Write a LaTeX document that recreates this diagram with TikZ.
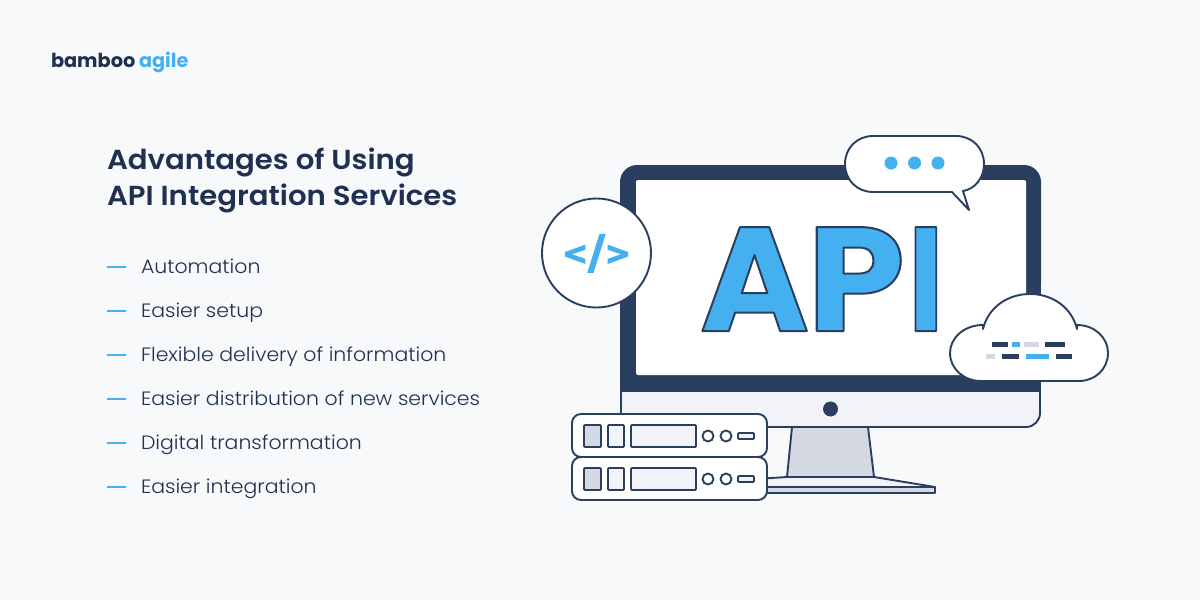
\documentclass[tikz,border=0pt]{standalone}
\usepackage{fontspec}
\setmainfont{Poppins}
\newfontfamily\listfont[FakeStretch=1.06]{Poppins Light}
\newfontfamily\headfont[FakeStretch=1.06]{Poppins SemiBold}
\newfontfamily\symfont{DejaVu Sans Bold}
\definecolor{pagebg}{HTML}{F8F9FB}
\definecolor{navy}{HTML}{2A3F5F}
\definecolor{inktext}{HTML}{1F3050}
\definecolor{skyblue}{HTML}{45B0F0}
\definecolor{chin}{HTML}{F1F3F8}
\definecolor{steel}{HTML}{D3D8E3}
\newcommand{\outlined}{\special{pdf:code 2 Tr 1 j 2 w 0.165 0.247 0.373 RG}}
\newcommand{\thickened}{\special{pdf:code 2 Tr 0 j 1.2 w 0.27 0.69 0.94 RG}}
\begin{document}
\begin{tikzpicture}[x=1pt,y=-1pt,line join=round]
\tikzstyle{every node} = [inner sep=0pt, outer sep=0pt, anchor=base west]
\tikzstyle{logotext} = [font=\bfseries\fontsize{19.3}{23}\selectfont]
\tikzstyle{headtext} = [font=\headfont\fontsize{27.5}{32}\selectfont, text=inktext]
\tikzstyle{listtext} = [font=\listfont\fontsize{19.3}{23}\selectfont, text=inktext]
\tikzstyle{dashmark} = [skyblue, line width=2pt]
\tikzstyle{outline} = [draw=navy, line width=1.9pt]
\tikzstyle{slot} = [outline, fill=chin, rounded corners=1pt]
\tikzstyle{slotdark} = [outline, fill=steel, rounded corners=1pt]
\tikzstyle{dot} = [fill=skyblue]
\fill[pagebg] (0,0) rectangle (1200,600);
\useasboundingbox (0,0) rectangle (1200,600);
% left column
\node[logotext, text=inktext] (brand) at (51,67) {bamboo};
\node[logotext, text=skyblue] (agile) at (139,67) {agile};
\node[headtext] (headone) at (107,169) {Advantages of Using};
\node[headtext] (headtwo) at (107,205) {API Integration Services};
\node[listtext] (item1) at (141,273) {Automation};
\node[listtext] (item2) at (141,317) {Easier setup};
\node[listtext] (item3) at (141,361) {Flexible delivery of information};
\node[listtext] (item4) at (141,405) {Easier distribution of new services};
\node[listtext] (item5) at (141,449) {Digital transformation};
\node[listtext] (item6) at (141,493) {Easier integration};
\draw[dashmark] (107,267) -- (126,267);
\draw[dashmark] (107,311) -- (126,311);
\draw[dashmark] (107,355) -- (126,355);
\draw[dashmark] (107,399) -- (126,399);
\draw[dashmark] (107,443) -- (126,443);
\draw[dashmark] (107,487) -- (126,487);
% stand and base
\draw[outline, fill=chin] (740,480) -- (787,477) -- (874,477) -- (935,487) -- (740,487) -- cycle;
\draw[outline, fill=steel] (740,487) rectangle (935,493);
\draw[outline, fill=steel] (792,427) -- (868,427) -- (874,477) -- (787,477) -- cycle;
% monitor
\draw[outline, fill=chin, rounded corners=14pt] (621,380) -- (621,427) -- (1040,427) -- (1040,380);
\fill[navy, rounded corners=17pt] (620,165) rectangle (1041,300);
\fill[navy] (620,280) rectangle (1041,392);
\fill[white, rounded corners=2pt] (636,180) rectangle (1026,375);
\fill[navy] (830.5,409) circle (7.5);
\node[font=\bfseries\fontsize{148}{148}\selectfont, text=skyblue] (api) at (700,331) {\outlined A\kern-2pt\scalebox{1.06}[1]{\outlined P}\kern3pt\scalebox{0.82}[1]{\outlined I}};
% code badge
\draw[outline, fill=white] (596.5,253) circle (54.5);
\node[font=\symfont\fontsize{31}{31}\selectfont, text=skyblue, anchor=base] (code) at (596.5,264) {\thickened <\raisebox{-4pt}{\fontsize{46}{46}\selectfont /}>};
% speech bubble
\draw[outline, fill=white] (873,136) -- (956,136) .. controls (972,136) and (984,148) .. (984,164) .. controls (984,178) and (975,189) .. (963,191) -- (969,210) -- (952,192) -- (873,192) .. controls (857,192) and (845,180) .. (845,164) .. controls (845,148) and (857,136) .. (873,136) -- cycle;
\fill[dot] (891,163) circle (6.5);
\fill[dot] (914.5,163) circle (6.5);
\fill[dot] (938,163) circle (6.5);
% cloud
\draw[outline, fill=white] (983,329) -- (983,325) .. controls (964,325) and (950,338) .. (950,353) .. controls (950,369) and (964,381) .. (981,381) -- (1079,381) .. controls (1095,381) and (1108,369) .. (1108,353) .. controls (1108,338) and (1095,325) .. (1077,325) -- (1077,329) .. controls (1072,308) and (1053,294) .. (1030,294) .. controls (1007,294) and (988,308) .. (983,329) -- cycle;
\fill[navy] (992,342) rectangle (1007.5,347);
\fill[skyblue] (1012,342) rectangle (1020,347);
\fill[steel] (1024,342) rectangle (1039,347);
\fill[navy] (1044.5,342) rectangle (1065,347);
\fill[steel] (986,354) rectangle (995,359);
\fill[navy] (1002,354) rectangle (1019,359);
\fill[skyblue] (1026,354) rectangle (1049,359);
\fill[navy] (1055.5,354) rectangle (1072,359);
% servers
\draw[outline, fill=white, rounded corners=9pt] (572,414) rectangle (767,457);
\draw[slotdark] (584,425) rectangle (601,447);
\draw[slot] (608,425) rectangle (624,447);
\draw[slot] (631,425) rectangle (696,447);
\draw[outline] (708,436) circle (5.5);
\draw[outline] (726,436) circle (5.5);
\draw[slot] (738,433) rectangle (754,439);
\draw[outline, fill=white, rounded corners=9pt] (572,457) rectangle (767,500);
\draw[slotdark] (584,468) rectangle (601,490);
\draw[slot] (608,468) rectangle (624,490);
\draw[slot] (631,468) rectangle (696,490);
\draw[outline] (708,479) circle (5.5);
\draw[outline] (726,479) circle (5.5);
\draw[slot] (738,476) rectangle (754,482);
\end{tikzpicture}
\end{document}
